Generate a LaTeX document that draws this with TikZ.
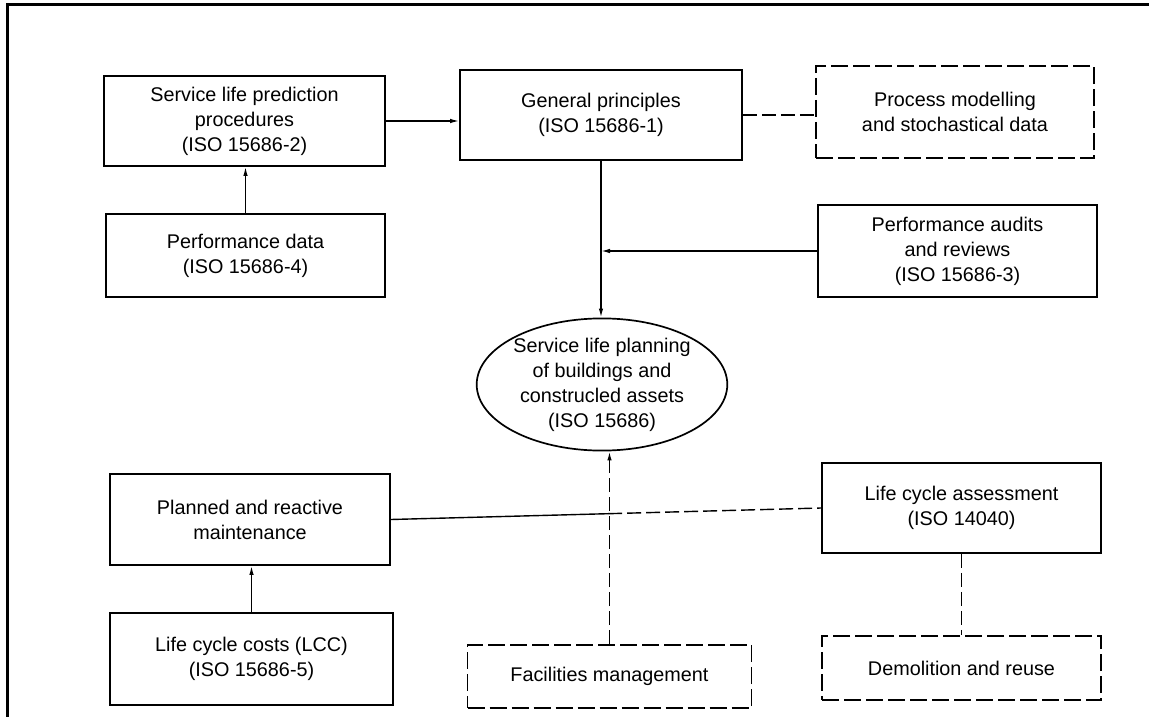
\documentclass[tikz,border=0pt]{standalone}
\usepackage{fontspec}
\setmainfont{Liberation Sans}
\usetikzlibrary{arrows.meta,calc,shapes.geometric}
\tikzset{
  box/.style={draw, line width=1.7pt, rectangle, align=center, inner sep=2pt,
    font=\fontsize{19.8}{25}\selectfont},
  dbox/.style={box, dash pattern=on 17pt off 5pt},
  ell/.style={draw, line width=1.7pt, ellipse, align=center, inner sep=0pt,
    font=\fontsize{19.8}{25}\selectfont},
  conn/.style={line width=1.4pt},
  dconn/.style={conn, dash pattern=on 14pt off 5pt},
  arr/.style={-{Latex[length=9pt,width=4.5pt]}}
}
\begin{document}
\begin{tikzpicture}[x=1pt,y=-1pt]
\useasboundingbox (0,0) rectangle (1149,717);
\draw[line width=3pt] (1149,5) -- (7,5) -- (7,717);

\node[box, minimum width=281pt, minimum height=90pt] (slp) at (244.5,121)
  {Service life prediction\\procedures\\(ISO 15686-2)};
\node[box, minimum width=279pt, minimum height=83pt] (pd) at (245.5,255.5)
  {Performance data\\(ISO 15686-4)};
\node[box, minimum width=282pt, minimum height=90pt] (gp) at (601,115)
  {General principles\\(ISO 15686-1)};
\node[dbox, minimum width=278pt, minimum height=92pt] (pm) at (955,112)
  {Process modelling\\and stochastical data};
\node[box, minimum width=279pt, minimum height=92pt] (pa) at (957.5,251)
  {Performance audits\\and reviews\\(ISO 15686-3)};
\node[ell, minimum width=250pt, minimum height=125pt] (sl) at (602,384.5)
  {Service life planning\\of buildings and\\construcled assets\\(ISO 15686)};
\node[box, minimum width=280pt, minimum height=91pt] (prm) at (250,519.5)
  {Planned and reactive\\maintenance};
\node[box, minimum width=283pt, minimum height=92pt] (lcc) at (251.5,659)
  {Life cycle costs (LCC)\\(ISO 15686-5)};
\node[box, minimum width=279pt, minimum height=90pt] (lca) at (961.5,508)
  {Life cycle assessment\\(ISO 14040)};
\node[dbox, minimum width=284pt, minimum height=63pt] (fm) at (609.5,676.5)
  {Facilities management};
\node[dbox, minimum width=279pt, minimum height=64pt] (dr) at (961.5,668)
  {Demolition and reuse};

\coordinate (j1) at (gp.south |- pa.west);
\coordinate (j2) at ($(prm.east)!0.505!(lca.west)$);

\draw[conn, arr] (slp.east) -- (slp.east -| gp.west);
\draw[conn, arr] (pd.north) -- (pd.north |- slp.south);
\draw[dconn] (gp.east) -- (gp.east -| pm.west);
\draw[conn, arr] (gp.south) -- (gp.south |- sl.north);
\draw[conn, arr] (pa.west) -- (j1);
\draw[conn, arr] (lcc.north) -- (lcc.north |- prm.south);
\draw[conn] (prm.east) -- (j2);
\draw[dconn] (j2) -- (lca.west);
\draw[dconn, arr] (fm.north) -- (fm.north |- sl.south);
\draw[dconn] (lca.south) -- (lca.south |- dr.north);
\end{tikzpicture}
\end{document}
